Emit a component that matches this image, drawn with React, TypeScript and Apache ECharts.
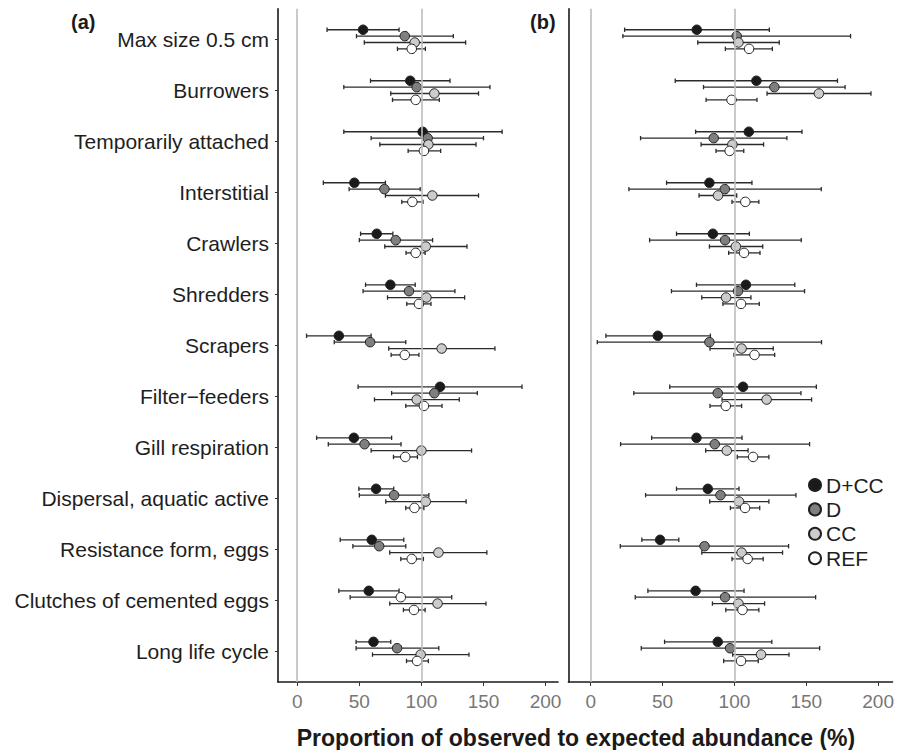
import React, { useEffect, useRef } from "react";
import * as echarts from "echarts";

// ---- data ----
const rowNames = [
  "Max size 0.5 cm",
  "Burrowers",
  "Temporarily attached",
  "Interstitial",
  "Crawlers",
  "Shredders",
  "Scrapers",
  "Filter\u2212feeders",
  "Gill respiration",
  "Dispersal, aquatic active",
  "Resistance form, eggs",
  "Clutches of cemented eggs",
  "Long life cycle",
];
const groupNames = ["D+CC", "D", "CC", "REF"];
const xTicks = [0, 50, 100, 150, 200];
const refLines = [0, 100];

// [mean, lower, upper] per row — panel (a)
const aDCC = [
  [53, 24, 82], [91, 59, 123], [101, 37.5, 165], [46, 21, 71], [64, 51, 77],
  [75, 55, 95], [33.5, 7.5, 59.5], [115, 49, 181], [45.6, 15.6, 76],
  [63.5, 49.6, 77.7], [60, 34.6, 85.8], [57.6, 33.5, 82], [61.4, 47.4, 75.3],
];
const aD = [
  [86.6, 47.7, 125.7], [96.2, 37.5, 155.2], [105, 59.5, 150], [70.2, 41.8, 99],
  [79.3, 50, 109], [90, 53, 127], [58.7, 29.8, 87.4], [110.4, 76, 145],
  [54.2, 25, 83.6], [78, 50, 106], [66, 44.8, 87.4], [83.4, 42.6, 124.4], [80.4, 47.4, 114],
];
const aCC = [
  [94.6, 54, 135.6], [110.4, 75.3, 146], [105.6, 66.5, 144], [108.8, 71, 146],
  [103.5, 70.5, 136.7], [104, 72.7, 134.8], [116.3, 73.7, 159.2], [96.2, 62.2, 130.5],
  [100, 59.5, 140.4], [103.5, 71.3, 136], [113.7, 74.5, 152.7], [113, 74.5, 152], [99.4, 60.6, 138.3],
];
const aREF = [
  [92.2, 80.7, 103.2], [95.4, 76.7, 114.4], [102, 89.3, 115.5], [92.7, 84.2, 101.3],
  [95.4, 87.6, 103], [98, 88.2, 107.7], [86.6, 75.6, 98], [102, 87.4, 116.6],
  [87, 77.5, 96.8], [94.4, 87.4, 102], [92.2, 83.4, 101.6], [94, 85.5, 103], [96.5, 88, 105.6],
];
// panel (b)
const bDCC = [
  [73.8, 23.6, 124.3], [115.3, 58.8, 171.7], [110, 73, 147], [82.6, 52.8, 112.2],
  [85, 59.7, 110.4], [108, 73.6, 142], [46.7, 10.6, 83.3], [106, 55, 157],
  [73.6, 42.4, 105.3], [81.5, 59.7, 103.2], [48.3, 35.6, 61.3], [73, 39.8, 106.7], [88.4, 51.4, 126],
];
const bD = [
  [101.6, 22.4, 180.8], [127.8, 78.5, 177], [85.6, 34.7, 136.5], [93.3, 26.6, 160.4],
  [93.5, 41, 146.5], [102.5, 56.2, 148.8], [82.6, 4.6, 160.6], [88.4, 30, 146.3],
  [86.3, 20.8, 152.3], [90.3, 38.2, 142.8], [79.2, 20.6, 137.7], [93.5, 31, 156.5], [97, 35.2, 159.3],
];
const bCC = [
  [102.8, 74.5, 131.2], [158.8, 122.7, 195], [98.6, 76.8, 120.3], [88.6, 75.4, 101.6],
  [101, 82.6, 119.7], [94.2, 77.3, 111.5], [105, 83, 127], [122.4, 91.4, 153.7],
  [94.7, 80, 109.5], [103.2, 82.8, 124], [105, 77.3, 133.5], [102.8, 84.7, 121], [118.5, 98.8, 138],
];
const bREF = [
  [110.2, 93.7, 126.4], [98, 80.3, 115.7], [96.7, 87.2, 106.5], [107.6, 98.3, 117],
  [106.7, 96, 117.8], [104.6, 92, 117.3], [114, 99.7, 128], [94, 83, 105],
  [113, 102, 124], [107.4, 97.2, 117.6], [109.2, 98.3, 120], [105.6, 94, 117], [104.6, 92.5, 116.6],
];
// one point drawn with white fill in the original: panel (a), group D, Clutches row
const whitePoint = { panel: 0, group: 1, row: 11 };

const panels = [
  [aDCC, aD, aCC, aREF],
  [bDCC, bD, bCC, bREF],
];
const fills = ["#1a1a1a", "#7f7f7f", "#cccccc", "#ffffff"];
const dodge = [-0.1875, -0.0625, 0.0625, 0.1875];

const FONT = "'Liberation Sans', Arial, Helvetica, sans-serif";

function buildOption() {
  const grids = [
    { left: 278, right: 339, top: 8.7, bottom: 68 },
    { left: 568.4, right: 3.9, top: 8.7, bottom: 68 },
  ];
  const xAxes = grids.map((_, p) => ({
    type: "value",
    gridIndex: p,
    min: -15.5,
    max: 210,
    splitLine: { show: false },
    axisLine: { show: true, onZero: false, lineStyle: { color: "#1a1a1a", width: 1.6 } },
    axisTick: { show: true, length: 4, customValues: xTicks, lineStyle: { color: "#333", width: 1 } },
    axisLabel: {
      customValues: xTicks,
      fontSize: 19,
      color: "#777777",
      margin: 10,
      fontFamily: FONT,
    },
  }));
  const rowIdx = rowNames.map((_, i) => i);
  const yAxes = grids.map((_, p) => ({
    type: "value",
    gridIndex: p,
    inverse: true,
    min: -0.6,
    max: 12.6,
    splitLine: { show: false },
    axisLine: { show: true, onZero: false, lineStyle: { color: "#1a1a1a", width: 1.6 } },
    axisTick: {
      show: p === 0,
      length: 3,
      customValues: rowIdx,
      lineStyle: { color: "#333", width: 1 },
    },
    axisLabel: {
      show: p === 0,
      customValues: rowIdx,
      formatter: (v: number) => rowNames[Math.round(v)] ?? "",
      fontSize: 21,
      color: "#1e1e1e",
      margin: 9,
      fontFamily: FONT,
    },
  }));

  const series: any[] = [];
  panels.forEach((groups, p) => {
    series.push({
      type: "line",
      name: "ref" + p,
      xAxisIndex: p,
      yAxisIndex: p,
      data: [],
      z: 1,
      silent: true,
      markLine: {
        silent: true,
        symbol: ["none", "none"],
        label: { show: false },
        lineStyle: { color: "#bdbdbd", width: 1.6, type: "solid" },
        data: refLines.map((v) => ({ xAxis: v })),
      },
    });
    groups.forEach((arr, g) => {
      series.push({
        type: "custom",
        name: "eb" + p + "-" + g,
        xAxisIndex: p,
        yAxisIndex: p,
        z: 2,
        silent: true,
        encode: { x: [0, 1], y: 2 },
        data: arr.map((t, i) => [t[1], t[2], i + dodge[g]]),
        renderItem: (params: any, api: any) => {
          const y = api.value(2);
          const p1 = api.coord([api.value(0), y]);
          const p2 = api.coord([api.value(1), y]);
          const h = 2.2;
          const style = { stroke: "#2b2b2b", lineWidth: 1.3 };
          return {
            type: "group",
            children: [
              { type: "line", shape: { x1: p1[0], y1: p1[1], x2: p2[0], y2: p2[1] }, style },
              { type: "line", shape: { x1: p1[0], y1: p1[1] - h, x2: p1[0], y2: p1[1] + h }, style },
              { type: "line", shape: { x1: p2[0], y1: p2[1] - h, x2: p2[0], y2: p2[1] + h }, style },
            ],
          };
        },
      });
      series.push({
        type: "scatter",
        name: groupNames[g],
        xAxisIndex: p,
        yAxisIndex: p,
        z: 3,
        symbol: "circle",
        symbolSize: 9.5,
        itemStyle: { color: fills[g], borderColor: "#1f1f1f", borderWidth: 1, opacity: 1 },
        data: arr.map((t, i) => {
          const item: any = { value: [t[0], i + dodge[g]] };
          if (p === whitePoint.panel && g === whitePoint.group && i === whitePoint.row) {
            item.itemStyle = { color: "#ffffff" };
          }
          return item;
        }),
      });
    });
  });

  return {
    animation: false,
    backgroundColor: "#ffffff",
    textStyle: { fontFamily: FONT },
    grid: grids,
    xAxis: xAxes,
    yAxis: yAxes,
    legend: {
      data: groupNames,
      orient: "vertical",
      left: 808,
      top: 473,
      padding: 0,
      icon: "circle",
      itemWidth: 12,
      itemHeight: 12,
      itemGap: 0.4,
      selectedMode: false,
      textStyle: { fontSize: 21, color: "#1e1e1e", lineHeight: 24, fontFamily: FONT },
    },
    graphic: [
      {
        type: "text",
        x: 71,
        y: 22,
        style: {
          text: "(a)",
          font: "bold 20px " + FONT,
          fill: "#1a1a1a",
          align: "left",
          verticalAlign: "middle",
          textAlign: "left",
          textVerticalAlign: "middle",
        },
      },
      {
        type: "text",
        x: 530,
        y: 22,
        style: {
          text: "(b)",
          font: "bold 20px " + FONT,
          fill: "#1a1a1a",
          align: "left",
          verticalAlign: "middle",
          textAlign: "left",
          textVerticalAlign: "middle",
        },
      },
      {
        type: "text",
        x: 576,
        y: 738,
        style: {
          text: "Proportion of observed to expected abundance (%)",
          font: "bold 23px " + FONT,
          fill: "#1a1a1a",
          align: "center",
          verticalAlign: "middle",
          textAlign: "center",
          textVerticalAlign: "middle",
        },
      },
    ],
    series,
  };
}

export default function App() {
  const ref = useRef<HTMLDivElement>(null);
  useEffect(() => {
    if (!ref.current) return;
    const chart = echarts.init(ref.current, null, { renderer: "svg" });
    chart.setOption(buildOption() as any);
    return () => chart.dispose();
  }, []);
  return (
    <div
      ref={ref}
      style={{ position: "fixed", left: 0, top: 0, width: 897, height: 750, background: "#fff" }}
    />
  );
}
